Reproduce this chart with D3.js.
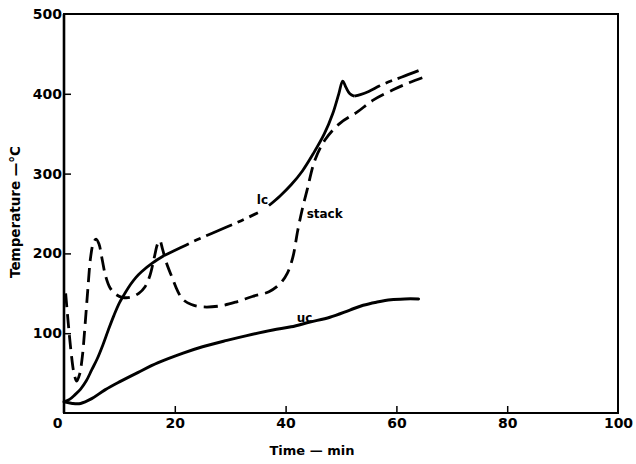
<!DOCTYPE html>
<html><head><meta charset="utf-8">
<script src="https://cdn.jsdelivr.net/npm/d3@7"></script>
<style>
html,body{margin:0;padding:0;background:#fff;}
text{font-family:"DejaVu Sans",sans-serif;font-weight:bold;fill:#000;}
</style></head>
<body><svg id="c" width="636" height="464"></svg>
<script>
// ---- data ----
const xTicks = [0, 20, 40, 60, 80, 100];
const yTicks = [0, 100, 200, 300, 400, 500];
const xLabel = "Time — min";
const yLabel = "Temperature —°C";

const ucTime = [0, 1.5, 3, 5, 7.4, 10, 13.4, 17, 21.5, 25, 29.4, 33, 37.7, 41, 44.4, 48, 51.6, 54, 56.5, 59, 61.5, 64];
const ucTemp = [14, 12, 12, 18, 29, 39, 51, 63, 75, 83, 91, 97, 104, 108, 114, 120, 129, 135, 139, 142, 143, 143];

const lcTime = [0, 1, 2, 3, 4, 5, 6, 7, 8, 9, 10, 11, 12, 13, 14, 16, 18, 21, 24, 28, 32, 35, 37, 39, 41, 43, 45, 47, 48.5, 49.6, 50.3, 50.9, 51.6, 52.4, 53.5, 55, 57, 59, 61, 64];
const lcTemp = [14, 17, 23, 30, 40, 54, 68, 85, 104, 122, 138, 150, 161, 170, 177, 188, 197, 207, 217, 229, 241, 251, 260, 272, 286, 303, 325, 350, 375, 400, 416, 408, 400, 397, 399, 403, 410, 416, 421, 429];

const stackTime = [0.3, 0.8, 1.3, 1.8, 2.3, 2.8, 3.3, 3.8, 4.3, 4.8, 5.3, 5.8, 6.3, 6.9, 7.5, 8.3, 9.3, 10.5, 12, 13.5, 14.6, 15.5, 16.3, 16.9, 17.3, 17.8, 18.5, 19.5, 20.5, 21.5, 23, 25, 28, 31, 34, 37, 39, 40.3, 41.3, 42.2, 43, 43.9, 45.3, 47.1, 49.8, 52.9, 55.8, 59.4, 62, 65];
const stackTemp = [150, 110, 75, 50, 40, 48, 70, 110, 155, 195, 213, 218, 212, 192, 172, 157, 149, 145, 145, 150, 158, 172, 195, 212, 216, 205, 188, 170, 153, 142, 136, 133, 134, 139, 146, 152, 162, 175, 195, 229, 255, 280, 317, 342, 363, 377, 392, 405, 413, 421];

// where the lc curve changes between solid and dash-dot
const lcBreaks = [0, 18, 36, 52.4, 64];

const seriesLabels = [
  {text: "lc", t: 34.8, v: 262},
  {text: "stack", t: 43.8, v: 244},
  {text: "uc", t: 42, v: 114}
];

// ---- chart ----
const svg = d3.select("#c");
const x = d3.scaleLinear().domain([0, 100]).range([64, 618]);
const y = d3.scaleLinear().domain([0, 500]).range([413, 14]);

const line = d3.line().x(d => x(d[0])).y(d => y(d[1])).curve(d3.curveCatmullRom.alpha(0.5));
const zip = (a, b) => a.map((v, i) => [v, b[i]]);

// frame
svg.append("rect").attr("x", x(0)).attr("y", y(500)).attr("width", x(100) - x(0)).attr("height", y(0) - y(500))
  .attr("fill", "none").attr("stroke", "#000").attr("stroke-width", 2);
svg.append("line").attr("x1", x(0)).attr("x2", x(0)).attr("y1", y(0)).attr("y2", y(500))
  .attr("stroke", "#000").attr("stroke-width", 2.6);

// axes
const xAxis = d3.axisBottom(x).tickValues(xTicks).tickSize(-7).tickPadding(5).tickFormat(d => d);
const gx = svg.append("g").attr("transform", `translate(0,${y(0)})`).call(xAxis);
gx.select(".domain").remove();
gx.selectAll(".tick line").attr("stroke-width", 1.5).filter(d => d === 0 || d === 100).remove();
gx.selectAll(".tick text").style("font-size", "14px").attr("fill", "#000")
  .attr("dx", d => d === 0 ? -7 : 0);

const yAxis = d3.axisLeft(y).tickValues(yTicks.filter(d => d > 0)).tickSize(-7).tickPadding(2).tickFormat(d => d);
const gy = svg.append("g").attr("transform", `translate(${x(0)},0)`).call(yAxis);
gy.select(".domain").remove();
gy.selectAll(".tick line").attr("stroke-width", 1.5).filter(d => d === 500).remove();
gy.selectAll(".tick text").style("font-size", "14px").attr("fill", "#000");

// axis titles
svg.append("text").attr("x", 312).attr("y", 455).attr("text-anchor", "middle").style("font-size", "13px").text(xLabel);
svg.append("text").attr("transform", "translate(20,212) rotate(-90)").attr("text-anchor", "middle").style("font-size", "13.5px").text(yLabel);

// uc
svg.append("path").datum(zip(ucTime, ucTemp)).attr("d", line)
  .attr("fill", "none").attr("stroke", "#000").attr("stroke-width", 3).attr("stroke-linecap", "round");

// stack
svg.append("path").datum(zip(stackTime, stackTemp)).attr("d", line)
  .attr("fill", "none").attr("stroke", "#000").attr("stroke-width", 2.8)
  .attr("stroke-dasharray", "14,7").attr("stroke-linecap", "butt");

// lc in pieces
const lcData = zip(lcTime, lcTemp);
for (let i = 0; i < lcBreaks.length - 1; i++) {
  const a = lcBreaks[i], b = lcBreaks[i + 1];
  const seg = lcData.filter(d => d[0] >= a && d[0] <= b);
  const p = svg.append("path").datum(seg).attr("d", line)
    .attr("fill", "none").attr("stroke", "#000").attr("stroke-width", 2.8);
  if (i % 2 === 1) p.attr("stroke-dasharray", "28,6,7,6");
}

// series labels
svg.selectAll(".slab").data(seriesLabels).enter().append("text")
  .attr("x", d => x(d.t)).attr("y", d => y(d.v)).style("font-size", "12px").text(d => d.text);
</script></body></html>
